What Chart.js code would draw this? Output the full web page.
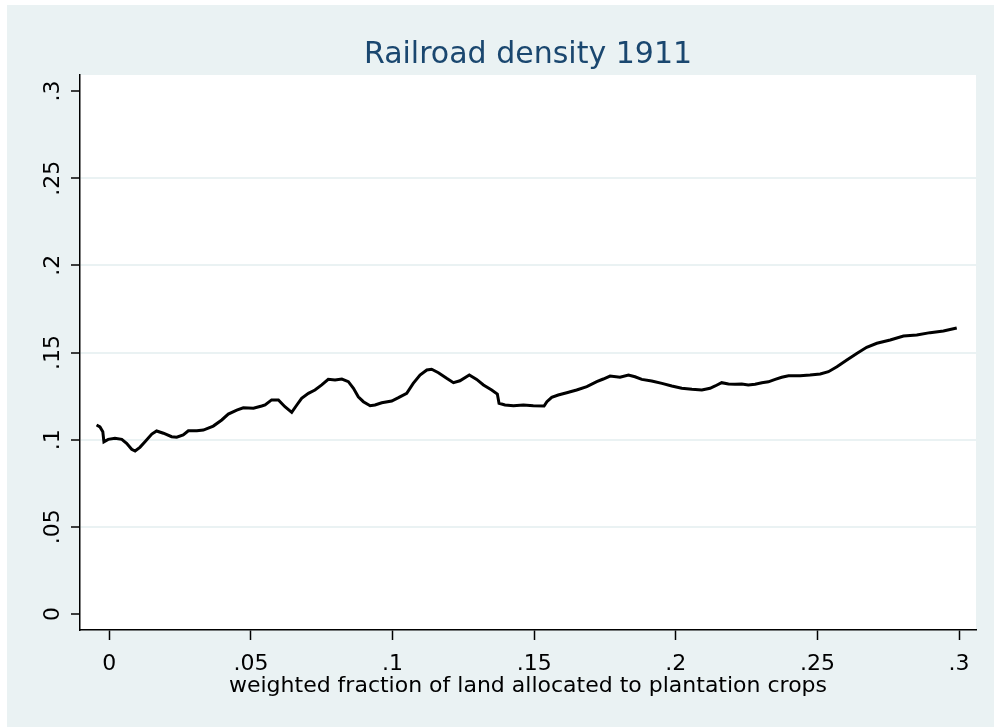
<!DOCTYPE html>
<html>
<head>
<meta charset="utf-8">
<script src="https://cdn.jsdelivr.net/npm/chart.js@4.4.1/dist/chart.umd.min.js"></script>
<style>
    html, body { margin: 0; padding: 0; background: #ffffff; }
    #wrap { width: 994px; height: 727px; }
</style>
</head>
<body>
<div id="wrap"><canvas id="chart"></canvas></div>
<script>
// fraction of land in plantation crops (x) vs railroad density (y)
const xVals = [-0.0045, -0.0033, -0.0023, -0.0019, -0.0004, 0.0020, 0.0044, 0.0061, 0.0079, 0.0091,
    0.0108, 0.0126, 0.0150, 0.0167, 0.0191, 0.0220, 0.0238, 0.0261, 0.0279, 0.0309,
    0.0332, 0.0367, 0.0397, 0.0420, 0.0450, 0.0473, 0.0509, 0.0538, 0.0550, 0.0573,
    0.0597, 0.0620, 0.0644, 0.0662, 0.0679, 0.0703, 0.0726, 0.0750, 0.0773, 0.0797,
    0.0821, 0.0844, 0.0862, 0.0879, 0.0897, 0.0921, 0.0938, 0.0962, 0.0997, 0.1021,
    0.1050, 0.1073, 0.1097, 0.1121, 0.1138, 0.1162, 0.1191, 0.1215, 0.1238, 0.1271,
    0.1297, 0.1321, 0.1350, 0.1370, 0.1376, 0.1397, 0.1427, 0.1462, 0.1497, 0.1535,
    0.1545, 0.1562, 0.1585, 0.1615, 0.1650, 0.1686, 0.1721, 0.1744, 0.1768, 0.1803,
    0.1833, 0.1856, 0.1880, 0.1915, 0.1951, 0.1986, 0.2021, 0.2057, 0.2092, 0.2121,
    0.2139, 0.2162, 0.2186, 0.2209, 0.2233, 0.2256, 0.2280, 0.2304, 0.2327, 0.2351,
    0.2374, 0.2398, 0.2421, 0.2439, 0.2474, 0.2510, 0.2539, 0.2569, 0.2604, 0.2639,
    0.2674, 0.2710, 0.2757, 0.2804, 0.2851, 0.2898, 0.2945, 0.2992];

const yVals = [0.1084, 0.1073, 0.1046, 0.0988, 0.1002, 0.1008, 0.1002, 0.0979, 0.0945, 0.0935,
    0.0956, 0.0988, 0.1032, 0.1050, 0.1037, 0.1017, 0.1014, 0.1027, 0.1051, 0.1051,
    0.1055, 0.1078, 0.1113, 0.1147, 0.1170, 0.1183, 0.1180, 0.1193, 0.1199, 0.1228,
    0.1228, 0.1189, 0.1157, 0.1199, 0.1237, 0.1266, 0.1285, 0.1314, 0.1346, 0.1342,
    0.1348, 0.1333, 0.1295, 0.1246, 0.1218, 0.1195, 0.1199, 0.1212, 0.1222, 0.1241,
    0.1266, 0.1323, 0.1371, 0.1400, 0.1404, 0.1384, 0.1352, 0.1327, 0.1338, 0.1371,
    0.1346, 0.1314, 0.1285, 0.1262, 0.1209, 0.1199, 0.1195, 0.1199, 0.1195, 0.1193,
    0.1218, 0.1243, 0.1256, 0.1269, 0.1285, 0.1304, 0.1333, 0.1348, 0.1365, 0.1358,
    0.1371, 0.1361, 0.1346, 0.1337, 0.1323, 0.1308, 0.1295, 0.1289, 0.1285, 0.1295,
    0.1308, 0.1327, 0.1319, 0.1318, 0.1319, 0.1314, 0.1318, 0.1327, 0.1332, 0.1346,
    0.1358, 0.1367, 0.1367, 0.1367, 0.1371, 0.1377, 0.1390, 0.1418, 0.1457, 0.1495,
    0.1530, 0.1553, 0.1572, 0.1595, 0.1600, 0.1614, 0.1623, 0.1641];

const xTicks = [0, 0.05, 0.1, 0.15, 0.2, 0.25, 0.3];
const xTickLabels = ['0', '.05', '.1', '.15', '.2', '.25', '.3'];
const yTicks = [0, 0.05, 0.1, 0.15, 0.2, 0.25, 0.3];
const yTickLabels = ['0', '.05', '.1', '.15', '.2', '.25', '.3'];

const chartTitle = 'Railroad density 1911';
const xTitle = 'weighted fraction of land allocated to plantation crops';

const points = xVals.map((x, i) => ({ x: x, y: yVals[i] }));

const bgPlugin = {
    id: 'bg',
    beforeDraw(chart) {
        const ctx = chart.ctx;
        const a = chart.chartArea;
        ctx.save();
        ctx.fillStyle = '#ffffff';
        ctx.fillRect(0, 0, chart.width, chart.height);
        ctx.fillStyle = '#eaf2f3';
        ctx.fillRect(7, 5, chart.width - 7, chart.height - 5);
        ctx.fillStyle = '#ffffff';
        ctx.fillRect(a.left, a.top, a.right - a.left, a.bottom - a.top);
        ctx.restore();
    }
};

const fontFamily = '"DejaVu Sans", sans-serif';

new Chart(document.getElementById('chart').getContext('2d'), {
    type: 'scatter',
    data: {
        datasets: [{
            data: points,
            showLine: true,
            borderColor: '#000000',
            borderWidth: 3,
            pointRadius: 0,
            pointHoverRadius: 0,
            tension: 0
        }]
    },
    options: {
        responsive: true,
        maintainAspectRatio: false,
        animation: false,
        events: [],
        layout: { padding: { left: 0, right: 18, top: 0, bottom: 0 } },
        plugins: {
            legend: { display: false },
            tooltip: { enabled: false },
            title: {
                display: true,
                text: chartTitle,
                fullSize: false,
                color: '#1a476f',
                font: { family: fontFamily, size: 30, weight: 'normal', lineHeight: 1.2 },
                padding: { top: 37, bottom: 2 }
            }
        },
        scales: {
            x: {
                type: 'linear',
                position: 'bottom',
                min: -0.01035,
                max: 0.306,
                afterBuildTicks: (scale) => { scale.ticks = xTicks.map(v => ({ value: v })); },
                afterFit: (scale) => { scale.height = 97; },
                border: { display: true, color: '#000000', width: 1.5 },
                grid: { drawOnChartArea: false, drawTicks: true, tickLength: 10, tickColor: '#000000', tickWidth: 1.5 },
                ticks: {
                    autoSkip: false,
                    minRotation: 0,
                    maxRotation: 0,
                    padding: 11,
                    color: '#000000',
                    font: { family: fontFamily, size: 22 },
                    callback: (value, index) => xTickLabels[index]
                },
                title: {
                    display: true,
                    text: xTitle,
                    color: '#000000',
                    font: { family: fontFamily, size: 22 },
                    padding: { top: 0, bottom: 28 }
                }
            },
            y: {
                type: 'linear',
                min: -0.00918,
                max: 0.3092,
                afterBuildTicks: (scale) => { scale.ticks = yTicks.map(v => ({ value: v })); },
                afterFit: (scale) => { scale.width = 80; },
                border: { display: true, color: '#000000', width: 1.5 },
                grid: {
                    drawTicks: true,
                    tickLength: 9,
                    tickColor: '#000000',
                    tickWidth: 1.5,
                    lineWidth: 2,
                    color: (ctx) => {
                        const v = ctx.tick ? ctx.tick.value : null;
                        if (v === 0 || v === 0.3) return 'rgba(0,0,0,0)';
                        return '#eaf2f3';
                    }
                },
                ticks: {
                    autoSkip: false,
                    minRotation: 90,
                    maxRotation: 90,
                    crossAlign: 'center',
                    padding: 0,
                    color: '#000000',
                    font: { family: fontFamily, size: 22 },
                    callback: (value, index) => yTickLabels[index]
                }
            }
        }
    },
    plugins: [bgPlugin]
});
</script>
</body>
</html>
